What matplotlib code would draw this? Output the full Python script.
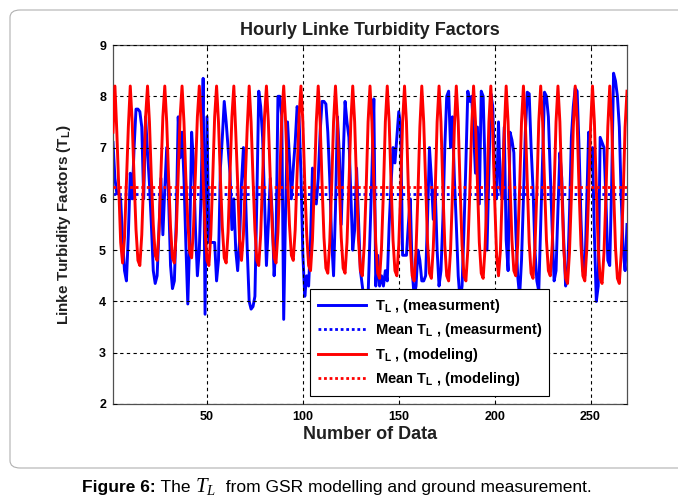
import numpy as np
import matplotlib
matplotlib.use('Agg')
import matplotlib.pyplot as plt
from matplotlib.patches import FancyBboxPatch

plt.rcParams['font.family'] = ['Liberation Sans', 'DejaVu Sans']
plt.rcParams['mathtext.fontset'] = 'custom'
plt.rcParams['mathtext.rm'] = 'Liberation Sans'
plt.rcParams['mathtext.bf'] = 'Liberation Sans:bold'
plt.rcParams['mathtext.it'] = 'Liberation Serif:italic'

# ---------------- data ----------------
x_start, x_end = 1, 269

tl_measured = [
    7.1, 6.4, 6.1, 6.1, 6.0, 5.2, 4.6, 4.4, 5.3, 6.5,
    6.0, 7.0, 7.75, 7.75, 7.7, 7.4, 6.0, 7.6, 6.9, 6.3,
    5.5, 4.6, 4.35, 4.5, 5.4, 6.4, 5.3, 6.2, 7.0, 6.0,
    4.7, 4.25, 4.4, 5.6, 7.6, 6.8, 7.3, 6.4, 5.1, 3.95,
    5.2, 7.3, 6.7, 5.4, 4.5, 5.0, 6.2, 8.35, 3.75, 7.6,
    5.15, 5.15, 5.15, 5.15, 4.4, 4.8, 6.6, 7.2, 7.9, 7.5,
    7.0, 6.5, 5.4, 6.0, 5.0, 4.6, 5.2, 6.3, 7.0, 6.2,
    5.0, 4.0, 3.85, 3.9, 4.1, 6.0, 8.1, 7.8, 7.2, 6.0,
    4.7, 5.5, 6.4, 5.7, 4.5, 5.1, 8.0, 8.0, 7.6, 3.65,
    5.8, 7.5, 6.8, 6.0, 6.6, 7.1, 7.8, 7.6, 6.5, 4.9,
    4.1, 4.5, 4.3, 5.2, 6.6, 6.2, 5.9, 6.4, 7.3, 7.9,
    7.9, 7.85, 7.3, 6.4, 5.2, 4.5, 5.8, 7.6, 6.9, 5.5,
    6.8, 7.9, 7.5, 7.2, 6.1, 5.0, 5.4, 6.6, 5.6, 4.6,
    4.3, 4.0, 4.2, 4.1, 5.3, 6.5, 7.95, 4.3, 4.9, 4.3,
    4.5, 4.3, 4.6, 4.4, 5.5, 6.3, 7.0, 6.7, 7.2, 7.7,
    7.4, 4.9, 4.9, 4.9, 5.5, 6.0, 4.6, 4.1, 4.3, 5.0,
    4.8, 4.4, 4.4, 4.5, 5.6, 7.0, 6.4, 5.6, 6.2, 5.0,
    4.3, 4.6, 5.6, 7.0, 8.0, 8.1, 7.0, 7.6, 6.4, 5.5,
    4.5, 4.0, 4.3, 5.4, 6.7, 8.1, 7.9, 8.0, 7.3, 6.5,
    7.4, 5.9, 8.1, 8.0, 6.6, 5.0, 6.5, 8.05, 7.8, 6.4,
    6.0, 7.5, 6.2, 6.0, 7.4, 5.2, 4.6, 7.3, 7.15, 6.9,
    5.4, 4.5, 4.1, 4.8, 6.0, 7.3, 8.08, 8.05, 7.0, 6.2,
    5.0, 4.4, 4.2, 5.5, 6.8, 8.08, 8.0, 7.6, 6.5, 5.4,
    4.4, 4.6, 5.8, 6.9, 6.4, 5.2, 4.3, 4.5, 5.7, 7.2,
    7.8, 8.16, 8.1, 7.0, 5.6, 4.6, 4.5, 5.9, 7.3, 6.6,
    7.0, 5.3, 4.0, 4.3, 7.2, 7.1, 7.0, 6.0, 4.8, 4.7,
    6.3, 8.45, 8.3, 8.0, 7.4, 6.0, 5.0, 4.6, 5.5,
]

tl_modeled = [
    7.3,
    8.2, 7.3, 6.25, 5.15, 4.75, 5.25, 6.35, 7.4,
    8.2, 7.5, 6.4, 5.4, 4.8, 4.7, 5.3, 6.4, 7.6,
    8.2, 7.5, 6.4, 5.5, 4.9, 4.8, 5.4, 6.5, 7.6,
    8.2, 7.5, 6.4, 5.45, 4.85, 4.75, 5.35, 6.45, 7.6,
    8.2, 7.5, 6.4, 5.55, 4.95, 4.85, 5.45, 6.55, 7.6,
    8.2, 7.5, 6.4, 5.4, 4.8, 4.7, 5.3, 6.4, 7.6,
    8.2, 7.5, 6.4, 5.45, 4.85, 4.75, 5.35, 6.45, 7.6,
    8.2, 7.3, 6.3, 5.2, 4.8, 5.3, 6.4, 7.4,
    8.2, 7.5, 6.4, 5.4, 4.8, 4.7, 5.3, 6.4, 7.6,
    8.2, 7.5, 6.4, 5.45, 4.85, 4.75, 5.35, 6.45, 7.6,
    8.2, 7.5, 6.4, 5.5, 4.9, 4.8, 5.4, 6.5, 7.6,
    8.2, 7.5, 6.3, 5.3, 4.7, 4.6, 5.2, 6.3, 7.5,
    8.2, 7.5, 6.3, 5.25, 4.65, 4.55, 5.15, 6.25, 7.5,
    8.2, 7.5, 6.3, 5.25, 4.65, 4.55, 5.15, 6.25, 7.5,
    8.2, 7.5, 6.3, 5.2, 4.6, 4.5, 5.1, 6.2, 7.5,
    8.2, 7.5, 6.3, 5.15, 4.55, 4.45, 5.05, 6.15, 7.5,
    8.2, 7.5, 6.3, 5.2, 4.6, 4.5, 5.1, 6.2, 7.5,
    8.2, 7.5, 6.2, 5.1, 4.5, 4.4, 5.0, 6.1, 7.4,
    8.2, 7.5, 6.3, 5.15, 4.55, 4.45, 5.05, 6.15, 7.5,
    8.2, 7.5, 6.2, 5.1, 4.5, 4.4, 5.0, 6.1, 7.4,
    8.2, 7.5, 6.2, 5.1, 4.5, 4.4, 5.0, 6.1, 7.4,
    8.2, 7.5, 6.3, 5.15, 4.55, 4.45, 5.05, 6.15, 7.5,
    8.2, 7.3, 6.0, 4.9, 4.5, 5.0, 6.2, 7.3,
    8.2, 7.5, 6.3, 5.2, 4.6, 4.5, 5.1, 6.2, 7.5,
    8.2, 7.5, 6.3, 5.15, 4.55, 4.45, 5.05, 6.15, 7.5,
    8.2, 7.5, 6.3, 5.2, 4.6, 4.5, 5.1, 6.2, 7.5,
    8.2, 7.5, 6.2, 5.05, 4.45, 4.35, 4.95, 6.05, 7.4,
    8.2, 7.5, 6.2, 5.1, 4.5, 4.4, 5.0, 6.1, 7.4,
    8.2, 7.5, 6.2, 5.05, 4.45, 4.35, 4.95, 6.05, 7.4,
    8.2, 7.5, 6.2, 5.05, 4.45, 4.35, 4.95, 6.05, 7.4,
    8.1,
]

mean_measured = 6.10
mean_modeled = 6.23

x_ticks = [50, 100, 150, 200, 250]
y_ticks = [2, 3, 4, 5, 6, 7, 8, 9]

title_text = 'Hourly Linke Turbidity Factors'
xlabel_text = 'Number of Data'
ylabel_text = r'Linke Turbidity Factors ($\mathbf{T_L}$)'
legend_labels = [r'$\mathbf{T_L}$ , (measurment)',
                 r'Mean $\mathbf{T_L}$ , (measurment)',
                 r'$\mathbf{T_L}$ , (modeling)',
                 r'Mean $\mathbf{T_L}$ , (modeling)']
caption_parts = [('Figure 6:', 'bold', 12.5),
                 (' The ', 'normal', 12.5),
                 (r'$T_L$', 'normal', 15),
                 ('  from GSR modelling and ground measurement.', 'normal', 12.5)]

# ---------------- plot ----------------
x = np.arange(x_start, x_end + 1)
assert len(tl_measured) == len(x) and len(tl_modeled) == len(x)

W, H = 678, 500
fig = plt.figure(figsize=(W / 100, H / 100), dpi=100)
fig.patch.set_facecolor('white')

frame = FancyBboxPatch((10 / W, 1 - 468 / H), (W + 20) / W, (458) / H,
                       boxstyle='round,pad=0,rounding_size=0.015',
                       transform=fig.transFigure, facecolor='none',
                       edgecolor='#b0b0b0', linewidth=0.8)
fig.patches.append(frame)

ax = fig.add_axes([113 / W, 1 - 404 / H, (627 - 113) / W, (404 - 45) / H])

blue = '#0000ff'
red = '#ff0000'
ax.plot(x, tl_measured, color=blue, lw=2.1, label=legend_labels[0], zorder=2)
ax.plot([x_start, x_end], [mean_measured, mean_measured], color=blue, lw=2.0,
        linestyle=(0, (1, 1)), label=legend_labels[1], zorder=2)
ax.plot(x, tl_modeled, color=red, lw=2.1, label=legend_labels[2], zorder=3)
ax.plot([x_start, x_end], [mean_modeled, mean_modeled], color=red, lw=2.0,
        linestyle=(0, (1, 1)), label=legend_labels[3], zorder=4)

ax.set_xlim(x_start, x_end)
ax.set_ylim(2, 9)
ax.set_xticks(x_ticks)
ax.set_yticks(y_ticks)
ax.tick_params(direction='in', length=3, width=0.6, labelsize=9,
               top=True, right=True, pad=5, colors='black')
for lab in ax.get_xticklabels() + ax.get_yticklabels():
    lab.set_fontweight('bold')
for sp in ax.spines.values():
    sp.set_color('#505050')
    sp.set_linewidth(0.9)

ax.grid(True, color='black', linestyle=(0, (3, 3)), linewidth=0.8, zorder=5)
ax.set_axisbelow(False)

ax.set_title(title_text, fontsize=13, fontweight='bold', pad=7, color='#202020')
ax.set_xlabel(xlabel_text, fontsize=13, fontweight='bold', labelpad=2, color='#202020')
ax.set_ylabel(ylabel_text, fontsize=11, fontweight='bold', labelpad=19, color='#202020')

leg = ax.legend(loc='center', bbox_to_anchor=(0.6165, 0.171),
                prop={'weight': 'bold', 'size': 10.5}, frameon=True, fancybox=False,
                edgecolor='black', framealpha=1.0, handlelength=3.3,
                labelspacing=0.45, borderpad=0.5, handletextpad=0.6)
leg.get_frame().set_linewidth(0.8)
leg.set_zorder(10)

# caption built piece by piece
fig.canvas.draw()
renderer = fig.canvas.get_renderer()
xpos = 82
for txt, wt, sz in caption_parts:
    t = fig.text(xpos / W, 1 - 492 / H, txt, ha='left', va='baseline',
                 fontsize=sz, fontweight=wt, color='black')
    bb = t.get_window_extent(renderer=renderer)
    xpos += bb.width

fig.savefig('out.png', dpi=100)
